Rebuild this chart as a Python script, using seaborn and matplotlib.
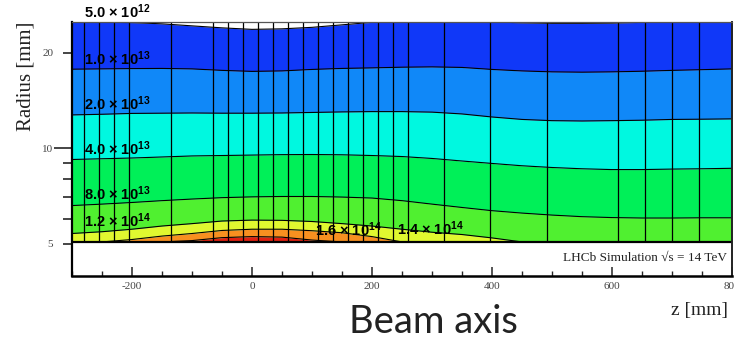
import matplotlib
matplotlib.use("Agg")
import matplotlib.pyplot as plt
import seaborn as sns
from matplotlib.ticker import FixedLocator, NullFormatter, MultipleLocator

# ---------------- data ----------------
z_knots = [-300, -250, -200, -150, -100, -50, 0, 50, 100, 150, 200, 250,
           300, 350, 400, 450, 500, 550, 600, 650, 700, 750, 800]

r_floor = 5.07  # inner boundary (beam pipe)

# radius [mm] of each contour line along z
r_5e12 = [25.03, 24.97, 24.89, 24.67, 24.31, 23.96, 23.70, 23.79, 24.05, 24.49, 24.94, 25.21,
          25.30, 25.21, 25.03, 24.85, 24.76, 24.76, 24.80, 24.94, 25.12, 25.21, 25.21]
r_1e13 = [17.75, 17.79, 17.83, 17.85, 17.79, 17.60, 17.47, 17.53, 17.72, 17.85, 17.92, 18.01,
          18.05, 17.98, 17.72, 17.53, 17.41, 17.37, 17.41, 17.49, 17.60, 17.69, 17.79]
r_2e13 = [12.74, 12.80, 12.88, 12.90, 12.92, 12.90, 12.90, 12.92, 12.97, 13.02, 13.05, 13.05,
          13.00, 12.83, 12.55, 12.33, 12.22, 12.19, 12.22, 12.26, 12.33, 12.35, 12.38]
r_4e13 = [9.22, 9.27, 9.32, 9.39, 9.46, 9.49, 9.52, 9.55, 9.56, 9.54, 9.49, 9.42,
          9.29, 9.12, 8.96, 8.81, 8.70, 8.62, 8.57, 8.57, 8.60, 8.62, 8.65]
r_8e13 = [6.60, 6.67, 6.75, 6.84, 6.92, 6.99, 7.03, 7.05, 7.05, 7.02, 6.97, 6.84,
          6.67, 6.51, 6.36, 6.25, 6.16, 6.09, 6.05, 6.03, 6.03, 6.04, 6.04]
r_12e13 = [5.39, 5.46, 5.56, 5.69, 5.79, 5.90, 5.94, 5.93, 5.88, 5.79, 5.69, 5.56,
           5.44, 5.35, 5.22, 5.07, 5.07, 5.07, 5.07, 5.07, 5.07, 5.07, 5.07]
r_14e13 = [5.07, 5.07, 5.16, 5.29, 5.39, 5.51, 5.56, 5.56, 5.50, 5.42, 5.27, 5.07,
           5.07, 5.07, 5.07, 5.07, 5.07, 5.07, 5.07, 5.07, 5.07, 5.07, 5.07]
r_16e13 = [5.07, 5.07, 5.07, 5.07, 5.12, 5.23, 5.27, 5.25, 5.14, 5.07, 5.07, 5.07,
           5.07, 5.07, 5.07, 5.07, 5.07, 5.07, 5.07, 5.07, 5.07, 5.07, 5.07]

# mesh lines of the simulation geometry
mesh_z = [-280, -255, -230, -205, -135, -65, -40, -15, 10, 35, 60, 85, 110, 135,
          160, 185, 210, 235, 260, 320, 397, 492, 610, 655, 700, 745]

band_colors = ["#E02010", "#F89020", "#E0F830", "#50F030", "#00F058",
               "#00F8E0", "#1088F8", "#1038F8"]

level_labels = ["5.0 × 10$^{12}$", "1.0 × 10$^{13}$", "2.0 × 10$^{13}$", "4.0 × 10$^{13}$",
                "8.0 × 10$^{13}$", "1.2 × 10$^{14}$", "1.6 × 10$^{14}$", "1.4 × 10$^{14}$"]
# label anchor (figure pixels: left x, baseline y)
label_px = [(84, 18), (84, 65), (84, 110), (84, 155), (84, 200), (84, 227), (315, 236), (397, 235)]

x_ticks = [-200, 0, 200, 400, 600, 800]
y_ticks = [5, 10, 20]
y_minor = [6, 7, 8, 9]

# ---------------- style ----------------
sns.set_style("white")
plt.rcParams["font.family"] = ["Liberation Serif", "DejaVu Serif"]
plt.rcParams["mathtext.fontset"] = "custom"
plt.rcParams["mathtext.rm"] = "Liberation Sans:bold"
plt.rcParams["mathtext.it"] = "Liberation Sans:bold"
plt.rcParams["mathtext.bf"] = "Liberation Sans:bold"

W, H = 734, 339
fig = plt.figure(figsize=(W / 100, H / 100), dpi=100)
ax = fig.add_axes([72 / W, 1 - 276 / H, (732 - 72) / W, (276 - 22) / H])
ax.set_yscale("log")
ax.set_xlim(-300, 800)
ax.set_ylim(3.96, 25.0)

boundaries = [r_floor, r_16e13, r_14e13, r_12e13, r_8e13, r_4e13, r_2e13, r_1e13, r_5e12]
for i, col in enumerate(band_colors):
    lo = boundaries[i]
    hi = boundaries[i + 1]
    ax.fill_between(z_knots, lo, hi, color=col, lw=0, zorder=1)

for line in [r_16e13, r_14e13, r_12e13, r_8e13, r_4e13, r_2e13, r_1e13, r_5e12]:
    sns.lineplot(x=z_knots, y=line, color="black", lw=0.8, ax=ax,
                 estimator=None, sort=False, zorder=3)

ax.vlines(mesh_z, r_floor, 25.0, color="black", lw=0.9, zorder=3)
ax.axhline(r_floor, color="black", lw=1.6, zorder=4)

# ticks
ax.set_xticks(x_ticks)
ax.set_xticklabels([str(v) for v in x_ticks])
ax.xaxis.set_minor_locator(MultipleLocator(50))
ax.yaxis.set_major_locator(FixedLocator(y_ticks))
ax.set_yticklabels([str(v) for v in y_ticks])
ax.yaxis.set_minor_locator(FixedLocator(y_minor))
ax.yaxis.set_minor_formatter(NullFormatter())

ax.tick_params(axis="x", which="major", direction="in", length=6.5, width=1.1,
               pad=4, labelsize=8, labelcolor="#444444", bottom=True, top=False)
ax.tick_params(axis="x", which="minor", direction="in", length=3.5, width=1.0,
               bottom=True, top=False)
ax.tick_params(axis="y", which="major", direction="out", length=6.5, width=1.2,
               pad=7, labelsize=8, labelcolor="#444444", left=True, right=False)
ax.tick_params(axis="y", which="minor", direction="out", length=6.5, width=1.2,
               left=True, right=False)
for t in ax.yaxis.get_major_ticks():
    if abs(t.get_loc() - 10) < 1e-6:
        t.tick1line.set_markersize(13)

for side, lw, col in [("left", 1.6, "black"), ("bottom", 1.8, "black"),
                      ("top", 0.9, "#555555"), ("right", 1.4, "#222222")]:
    ax.spines[side].set_visible(True)
    ax.spines[side].set_linewidth(lw)
    ax.spines[side].set_color(col)
    ax.spines[side].set_zorder(5)

# texts
fig.text(26 / W, 1 - 76 / H, "Radius [mm]", rotation=90, ha="center", va="center",
         fontsize=15, color="#222222")
fig.text(728 / W, 1 - 311 / H, "z [mm]", ha="right", va="center", fontsize=14,
         color="#222222")
ax.text(0.992, 0.072, "LHCb Simulation √s = 14 TeV", transform=ax.transAxes,
        ha="right", va="center", fontsize=9.5, color="#222222", zorder=6)
fig.text(433 / W, 1 - 333 / H, "Beam axis", ha="center", va="baseline", fontsize=27.5,
         family=["Lato", "DejaVu Sans"], weight="normal", color="#222222")

for txt, (px, py) in zip(level_labels, label_px):
    fig.text(px / W, 1 - py / H, txt, ha="left", va="baseline", fontsize=10.5,
             family=["Liberation Sans", "DejaVu Sans"], weight="bold", color="black",
             zorder=7)

fig.savefig("out.png", dpi=100)
